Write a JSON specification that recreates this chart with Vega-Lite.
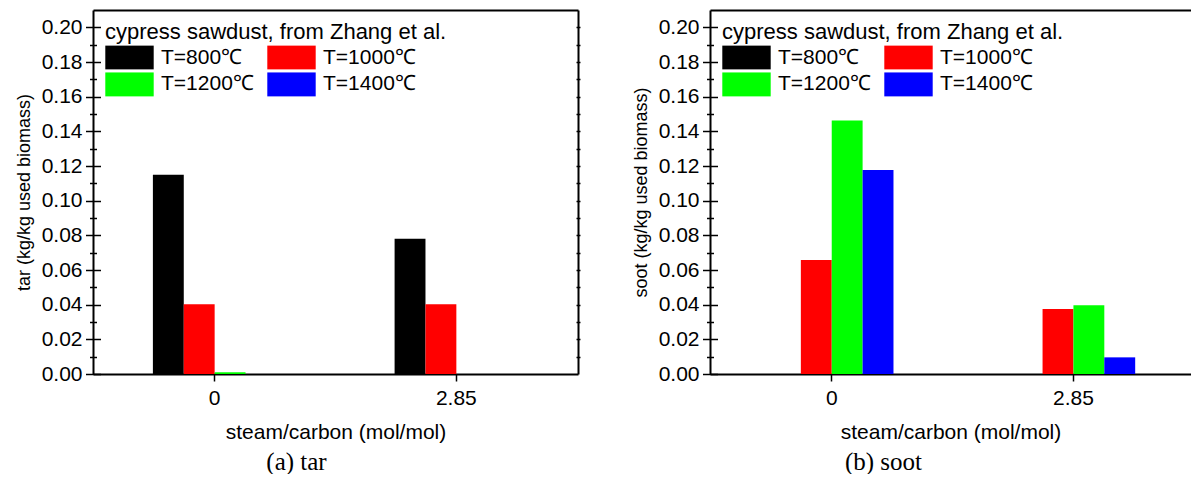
{
  "$schema": "https://vega.github.io/schema/vega-lite/v6.json",
  "padding": {"left": 15, "top": 10, "right": 0, "bottom": 0},
  "background": "white",
  "datasets": {
    "tar": [
      {"sc": "0", "temp": "T=800℃", "v": 0.115},
      {"sc": "0", "temp": "T=1000℃", "v": 0.0403},
      {"sc": "0", "temp": "T=1200℃", "v": 0.001},
      {"sc": "0", "temp": "T=1400℃", "v": 0},
      {"sc": "2.85", "temp": "T=800℃", "v": 0.0781},
      {"sc": "2.85", "temp": "T=1000℃", "v": 0.0403},
      {"sc": "2.85", "temp": "T=1200℃", "v": 0},
      {"sc": "2.85", "temp": "T=1400℃", "v": 0}
    ],
    "soot": [
      {"sc": "0", "temp": "T=800℃", "v": 0},
      {"sc": "0", "temp": "T=1000℃", "v": 0.0658},
      {"sc": "0", "temp": "T=1200℃", "v": 0.1463},
      {"sc": "0", "temp": "T=1400℃", "v": 0.1177},
      {"sc": "2.85", "temp": "T=800℃", "v": 0},
      {"sc": "2.85", "temp": "T=1000℃", "v": 0.0375},
      {"sc": "2.85", "temp": "T=1200℃", "v": 0.0397},
      {"sc": "2.85", "temp": "T=1400℃", "v": 0.0096}
    ]
  },
  "spacing": 51,
  "resolve": {"scale": {"color": "independent"}, "legend": {"color": "independent"}},
  "hconcat": [
    {
      "width": 485,
      "height": 364,
      "data": {"name": "tar"},
      "resolve": {"axis": {"x": "independent", "y": "independent"}},
      "layer": [
        {
          "mark": {"type": "bar"},
          "encoding": {
            "x": {"field": "sc", "type": "nominal", "sort": ["0", "2.85"], "scale": {"paddingInner": 0.489, "paddingOuter": 0.2478, "align": 0.5},
              "axis": {"orient": "bottom", "labelAngle": 0, "title": "steam/carbon (mol/mol)", "titleFontSize": 21, "tickSize": 7, "labelPadding": 6, "titlePadding": 13}},
            "y": {"field": "v", "type": "quantitative", "stack": null, "scale": {"domain": [0, 0.21], "nice": false},
              "axis": {"orient": "left", "values": [0, 0.02, 0.04, 0.06, 0.08, 0.1, 0.12, 0.14, 0.16, 0.18, 0.2], "format": ".2f", "ticks": false, "labelPadding": 11, "title": "tar (kg/kg used biomass)", "titleFontSize": 18, "titlePadding": 8}},
            "xOffset": {"field": "temp", "type": "nominal", "sort": ["T=800℃", "T=1000℃", "T=1200℃", "T=1400℃"], "scale": {"paddingInner": 0, "paddingOuter": 0}},
            "color": {"field": "temp", "type": "nominal", "sort": ["T=800℃", "T=1000℃", "T=1200℃", "T=1400℃"],
              "scale": {"domain": ["T=800℃", "T=1000℃", "T=1200℃", "T=1400℃"], "range": ["#000000", "#ff0000", "#00ff00", "#0000ff"]},
              "legend": {"orient": "none", "legendX": 12, "legendY": 12, "direction": "horizontal", "columns": 2, "title": "cypress sawdust, from Zhang et al.", "titleFont": "Liberation Sans", "titleFontSize": 22, "titleFontWeight": "normal", "titleColor": "black", "titlePadding": 1, "titleLimit": 600, "labelFont": "Liberation Sans", "labelFontSize": 21, "labelColor": "black", "labelOffset": 7, "labelLimit": 300, "symbolType": "M-1,-0.5H1V0.5H-1Z", "symbolSize": 2343, "symbolStrokeWidth": 0, "symbolOpacity": 1, "clipHeight": 24.5, "rowPadding": 2.2, "columnPadding": 13, "padding": 0}}
          }
        },
        {
          "mark": {"type": "bar", "opacity": 0},
          "encoding": {
            "x": {"field": "sc", "type": "nominal", "sort": ["0", "2.85"], "axis": {"orient": "top", "labels": false, "ticks": false, "title": null, "domain": true}},
            "y": {"field": "v", "type": "quantitative", "stack": null, "axis": {"orient": "left", "values": [0, 0.02, 0.04, 0.06, 0.08, 0.1, 0.12, 0.14, 0.16, 0.18, 0.2], "labels": false, "domain": false, "tickSize": 15, "offset": -7.5, "title": null}}
          }
        },
        {
          "mark": {"type": "bar", "opacity": 0},
          "encoding": {
            "x": {"field": "sc", "type": "nominal", "sort": ["0", "2.85"], "axis": {"orient": "bottom", "labels": false, "ticks": false, "domain": false, "title": "(a) tar", "titleFont": "Liberation Serif", "titleFontSize": 25, "titleFontWeight": "normal", "titleX": 203, "titleY": 87, "titleAlign": "center", "titleBaseline": "middle", "titleAnchor": null}},
            "y": {"field": "v", "type": "quantitative", "stack": null, "axis": {"orient": "left", "values": [0.01, 0.03, 0.05, 0.07, 0.09, 0.11, 0.13, 0.15, 0.17, 0.19], "labels": false, "domain": false, "tickSize": 7, "offset": -3.5, "title": null}}
          }
        },
        {
          "mark": {"type": "bar", "opacity": 0},
          "encoding": {
            "x": {"field": "sc", "type": "nominal", "sort": ["0", "2.85"], "axis": null},
            "y": {"field": "v", "type": "quantitative", "stack": null, "axis": {"orient": "right", "labels": false, "ticks": false, "domain": true, "title": null}}
          }
        },
        {
          "mark": {"type": "bar", "opacity": 0},
          "encoding": {
            "x": {"field": "sc", "type": "nominal", "sort": ["0", "2.85"], "axis": null},
            "y": {"field": "v", "type": "quantitative", "stack": null, "axis": {"orient": "right", "values": [0.01, 0.02, 0.03, 0.04, 0.05, 0.06, 0.07, 0.08, 0.09, 0.1, 0.11, 0.12, 0.13, 0.14, 0.15, 0.16, 0.17, 0.18, 0.19, 0.2], "labels": false, "domain": false, "tickSize": 4, "offset": -2, "title": null}}
          }
        }
      ]
    },
    {
      "width": 481,
      "height": 364,
      "data": {"name": "soot"},
      "resolve": {"axis": {"x": "independent", "y": "independent"}},
      "layer": [
        {
          "mark": {"type": "bar"},
          "encoding": {
            "x": {"field": "sc", "type": "nominal", "sort": ["0", "2.85"], "scale": {"paddingInner": 0.489, "paddingOuter": 0.2395, "align": 0.518},
              "axis": {"orient": "bottom", "labelAngle": 0, "title": "steam/carbon (mol/mol)", "titleFontSize": 21, "tickSize": 7, "labelPadding": 6, "titlePadding": 13}},
            "y": {"field": "v", "type": "quantitative", "stack": null, "scale": {"domain": [0, 0.21], "nice": false},
              "axis": {"orient": "left", "values": [0, 0.02, 0.04, 0.06, 0.08, 0.1, 0.12, 0.14, 0.16, 0.18, 0.2], "format": ".2f", "ticks": false, "labelPadding": 11, "title": "soot (kg/kg used biomass)", "titleFontSize": 18, "titlePadding": 8}},
            "xOffset": {"field": "temp", "type": "nominal", "sort": ["T=800℃", "T=1000℃", "T=1200℃", "T=1400℃"], "scale": {"paddingInner": 0, "paddingOuter": 0}},
            "color": {"field": "temp", "type": "nominal", "sort": ["T=800℃", "T=1000℃", "T=1200℃", "T=1400℃"],
              "scale": {"domain": ["T=800℃", "T=1000℃", "T=1200℃", "T=1400℃"], "range": ["#000000", "#ff0000", "#00ff00", "#0000ff"]},
              "legend": {"orient": "none", "legendX": 12, "legendY": 12, "direction": "horizontal", "columns": 2, "title": "cypress sawdust, from Zhang et al.", "titleFont": "Liberation Sans", "titleFontSize": 22, "titleFontWeight": "normal", "titleColor": "black", "titlePadding": 1, "titleLimit": 600, "labelFont": "Liberation Sans", "labelFontSize": 21, "labelColor": "black", "labelOffset": 7, "labelLimit": 300, "symbolType": "M-1,-0.5H1V0.5H-1Z", "symbolSize": 2343, "symbolStrokeWidth": 0, "symbolOpacity": 1, "clipHeight": 24.5, "rowPadding": 2.2, "columnPadding": 13, "padding": 0}}
          }
        },
        {
          "mark": {"type": "bar", "opacity": 0},
          "encoding": {
            "x": {"field": "sc", "type": "nominal", "sort": ["0", "2.85"], "axis": {"orient": "top", "labels": false, "ticks": false, "title": null, "domain": true}},
            "y": {"field": "v", "type": "quantitative", "stack": null, "axis": {"orient": "left", "values": [0, 0.02, 0.04, 0.06, 0.08, 0.1, 0.12, 0.14, 0.16, 0.18, 0.2], "labels": false, "domain": false, "tickSize": 15, "offset": -7.5, "title": null}}
          }
        },
        {
          "mark": {"type": "bar", "opacity": 0},
          "encoding": {
            "x": {"field": "sc", "type": "nominal", "sort": ["0", "2.85"], "axis": {"orient": "bottom", "labels": false, "ticks": false, "domain": false, "title": "(b) soot", "titleFont": "Liberation Serif", "titleFontSize": 25, "titleFontWeight": "normal", "titleX": 173, "titleY": 87, "titleAlign": "center", "titleBaseline": "middle", "titleAnchor": null}},
            "y": {"field": "v", "type": "quantitative", "stack": null, "axis": {"orient": "left", "values": [0.01, 0.03, 0.05, 0.07, 0.09, 0.11, 0.13, 0.15, 0.17, 0.19], "labels": false, "domain": false, "tickSize": 7, "offset": -3.5, "title": null}}
          }
        }
      ]
    }
  ],
  "config": {
    "font": "Liberation Sans",
    "view": {"stroke": null},
    "axis": {"grid": false, "domainColor": "black", "tickColor": "black", "labelColor": "black", "titleColor": "black", "labelFont": "Liberation Sans", "titleFont": "Liberation Sans", "labelFontSize": 21, "titleFontWeight": "normal", "domainWidth": 2, "tickWidth": 1.5}
  }
}
